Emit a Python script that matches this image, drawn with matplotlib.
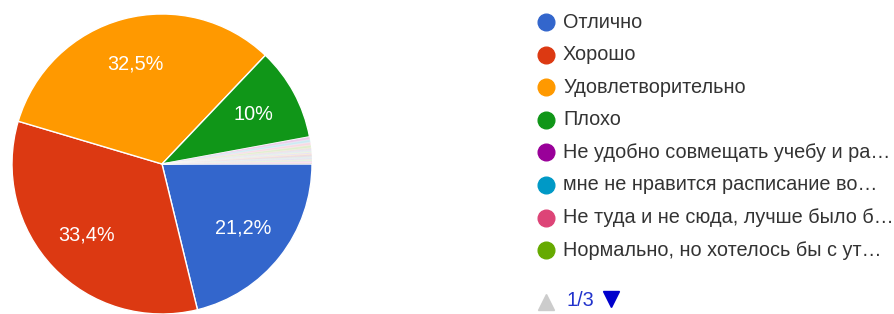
import matplotlib.pyplot as plt

# ===============================
# DATA
# ===============================

labels = ["Отлично", "Хорошо", "Удовлетворительно", "Плохо",
          "Не удобно совмещать учебу и ра…",
          "мне не нравится расписание во…",
          "Не туда и не сюда, лучше было б…",
          "Нормально, но хотелось бы с ут…"]
shares = [21.2, 33.4, 32.5, 10.0, 0.3, 0.3, 0.3, 0.3]

# tiny answers listed on pages 2 and 3 of the legend
extra_shares = [0.1] * 17

colors = ["#3366CC", "#DC3912", "#FF9900", "#109618",
          "#990099", "#0099C6", "#DD4477", "#66AA00"]
extra_colors = ["#B82E2E", "#316395", "#994499", "#22AA99", "#AAAA11",
                "#6633CC", "#E67300", "#8B0707", "#651067", "#329262",
                "#5574A6", "#3B3EAC", "#B77322", "#16D620", "#B91383",
                "#F4359E", "#9C5935"]

page_text = "1/3"

# ===============================
# FIGURE
# ===============================

plt.rcParams["font.family"] = ["Liberation Sans", "DejaVu Sans"]

W, H = 894, 314
fig = plt.figure(figsize=(W / 100, H / 100), dpi=100)

# pie: centre (162, 164) px from top-left, radius 150 px
cx, cy, r = 162, 164, 150
ax = fig.add_axes([(cx - r) / W, (H - cy - r) / H, 2 * r / W, 2 * r / H])


def fmt(p):
    if p < 5:
        return ""
    if abs(p - round(p)) < 0.05:
        return f"{int(round(p))}%"
    return f"{p:.1f}%".replace(".", ",")


wedges, texts, autotexts = ax.pie(
    shares + extra_shares,
    colors=colors + extra_colors,
    startangle=0,
    counterclock=False,
    radius=1,
    autopct=fmt,
    pctdistance=0.69,
    wedgeprops=dict(edgecolor="white", linewidth=1.0),
    textprops=dict(color="white", fontsize=14.3),
)

# the tiny slices look washed out in the original screenshot
for w, s in zip(wedges, shares + extra_shares):
    if s < 1:
        w.set_alpha(0.2)

ax.set_xlim(-1, 1)
ax.set_ylim(-1, 1)
ax.set_aspect("equal")
ax.axis("off")

# ===============================
# LEGEND (drawn manually, pixel layout)
# ===============================

lax = fig.add_axes([0, 0, 1, 1])
lax.set_xlim(0, W)
lax.set_ylim(H, 0)
lax.axis("off")

y0, dy = 22, 32.6
for i, (lab, col) in enumerate(zip(labels, colors)):
    y = y0 + i * dy
    lax.plot(546, y, "o", ms=12, color=col, mec=col)
    lax.text(563, y, lab, fontsize=14.3, color="#333333",
             va="center", ha="left")

lax.plot(546, 302, "^", ms=12, color="#cccccc")
lax.text(566, 301, page_text, fontsize=14.3, color="#2233cc",
         va="center", ha="left")
lax.plot(611, 299, "v", ms=12, color="#0000cc")

fig.savefig("out.png", dpi=100)
